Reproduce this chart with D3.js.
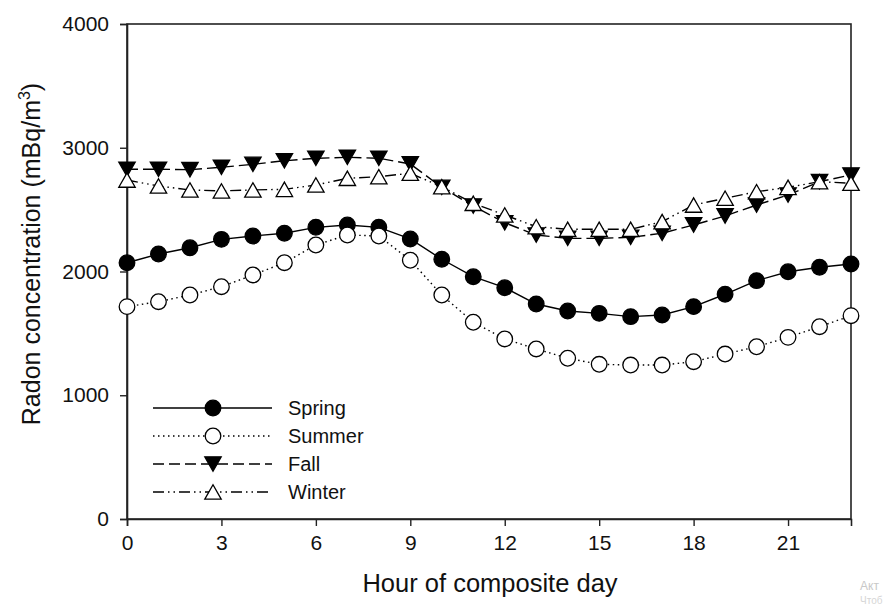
<!DOCTYPE html>
<html>
<head>
<meta charset="utf-8">
<script src="https://cdn.jsdelivr.net/npm/d3@7"></script>
<style>
  html, body { margin: 0; padding: 0; background: #fff; }
  svg { display: block; font-family: "Liberation Sans", Arial, sans-serif; }
</style>
</head>
<body>
<svg id="chart" width="888" height="605"></svg>
<script>
// Hourly composite-day radon concentrations (mBq/m3) by season
const hours = d3.range(0, 24);
const spring = [2071, 2141, 2192, 2260, 2287, 2309, 2357, 2376, 2357, 2263, 2099, 1958,
                1869, 1737, 1681, 1662, 1635, 1649, 1716, 1816, 1926, 1998, 2034, 2061];
const summer = [1716, 1756, 1810, 1877, 1972, 2071, 2214, 2295, 2287, 2091, 1810, 1590,
                1455, 1374, 1299, 1250, 1244, 1244, 1271, 1333, 1392, 1468, 1554, 1643];
const fall   = [2826, 2826, 2823, 2842, 2866, 2895, 2915, 2923, 2915, 2869, 2680, 2529,
                2394, 2295, 2268, 2268, 2276, 2309, 2376, 2449, 2537, 2618, 2726, 2780];
const winter = [2739, 2691, 2659, 2651, 2659, 2664, 2699, 2753, 2766, 2794, 2685, 2551,
                2457, 2362, 2341, 2341, 2341, 2403, 2537, 2592, 2645, 2680, 2726, 2713];
const seasonNames = ["Spring", "Summer", "Fall", "Winter"];
const xTicks = [0, 3, 6, 9, 12, 15, 18, 21];
const yTicks = [0, 1000, 2000, 3000, 4000];

const series = [
  { name: seasonNames[0], values: spring, dash: null,              marker: "circle",  fill: "#000" },
  { name: seasonNames[1], values: summer, dash: "1.5,3.5",          marker: "circle",  fill: "#fff" },
  { name: seasonNames[2], values: fall,   dash: "11,5",             marker: "triDown", fill: "#000" },
  { name: seasonNames[3], values: winter, dash: "11,4,1.5,4,1.5,4", marker: "triUp",   fill: "#fff" }
];

const svg = d3.select("#chart");
const m = { left: 127, right: 888 - 851, top: 24, bottom: 605 - 519 };
const W = 888 - m.left - m.right;
const H = 605 - m.top - m.bottom;

const x = d3.scaleLinear().domain([0, 23]).range([0, W]);
const y = d3.scaleLinear().domain([0, 4000]).range([H, 0]);

const g = svg.append("g").attr("transform", `translate(${m.left},${m.top})`);

// Marker shapes centred on the data point
function markerPath(type) {
  const s = 8.2, hh = 7.2;
  if (type === "triDown") return `M${-s},${-hh}L${s},${-hh}L0,${hh}Z`;
  return `M${-s},${hh}L${s},${hh}L0,${-hh}Z`;
}
function drawMarker(sel, d) {
  if (d.marker === "circle") {
    sel.append("circle").attr("r", 7.8)
      .attr("fill", d.fill).attr("stroke", "#000").attr("stroke-width", 1.3);
  } else {
    sel.append("path").attr("d", markerPath(d.marker))
      .attr("fill", d.fill).attr("stroke", "#000").attr("stroke-width", 1.3)
      .attr("stroke-linejoin", "miter");
  }
}

// Frame
g.append("rect").attr("x", 0).attr("y", 0).attr("width", W).attr("height", H)
  .attr("fill", "none").attr("stroke", "#222").attr("stroke-width", 1.6);

// Axes
const xAxis = g.append("g").attr("transform", `translate(0,${H})`)
  .call(d3.axisBottom(x).tickValues(xTicks).tickSize(7).tickPadding(9).tickFormat(d3.format("d")));
const yAxis = g.append("g")
  .call(d3.axisLeft(y).tickValues(yTicks).tickSize(7).tickPadding(11).tickFormat(d3.format("d")));
[xAxis, yAxis].forEach(a => {
  a.select(".domain").attr("stroke", "#222").attr("stroke-width", 1.6);
  a.selectAll(".tick line").attr("stroke", "#222").attr("stroke-width", 1.4);
  a.selectAll(".tick text").attr("fill", "#111").style("font-size", "21px")
    .style("font-family", "'Liberation Sans', Arial, sans-serif");
});

// Lines and markers
const line = d3.line().x((d, i) => x(hours[i])).y(d => y(d));
series.forEach(s => {
  g.append("path").datum(s.values).attr("d", line)
    .attr("fill", "none").attr("stroke", "#000").attr("stroke-width", 1.4)
    .attr("stroke-dasharray", s.dash);
});
series.forEach(s => {
  const pts = g.append("g").selectAll("g").data(s.values).join("g")
    .attr("transform", (d, i) => `translate(${x(hours[i])},${y(d)})`);
  pts.each(function () { drawMarker(d3.select(this), s); });
});

// Legend
const legend = svg.append("g").attr("transform", "translate(153,408)");
series.forEach((s, i) => {
  const row = legend.append("g").attr("transform", `translate(0,${i * 28})`);
  row.append("line").attr("x1", 0).attr("x2", 119).attr("y1", 0).attr("y2", 0)
    .attr("stroke", "#000").attr("stroke-width", 1.4).attr("stroke-dasharray", s.dash);
  const mk = row.append("g").attr("transform", "translate(60,0)");
  drawMarker(mk, s);
  row.append("text").attr("x", 135).attr("y", 7).text(s.name)
    .attr("fill", "#111").style("font-size", "20px");
});

// Axis titles
svg.append("text").attr("x", m.left + W / 2 + 1).attr("y", 592)
  .attr("text-anchor", "middle").attr("fill", "#111").style("font-size", "25.5px")
  .text("Hour of composite day");

const yt = svg.append("text")
  .attr("transform", "translate(40,254) rotate(-90)")
  .attr("text-anchor", "middle").attr("fill", "#111").style("font-size", "25px");
yt.append("tspan").text("Radon concentration (mBq/m");
yt.append("tspan").text("3").attr("dy", -10).style("font-size", "16px");
yt.append("tspan").text(")").attr("dy", 10);

// Faint system overlay text in the corner
svg.append("text").attr("x", 860).attr("y", 590).attr("fill", "#c8c8c8")
  .style("font-size", "12px").text("Акт");
svg.append("text").attr("x", 860).attr("y", 604).attr("fill", "#d6d6d6")
  .style("font-size", "10px").text("Чтоб");
</script>
</body>
</html>
